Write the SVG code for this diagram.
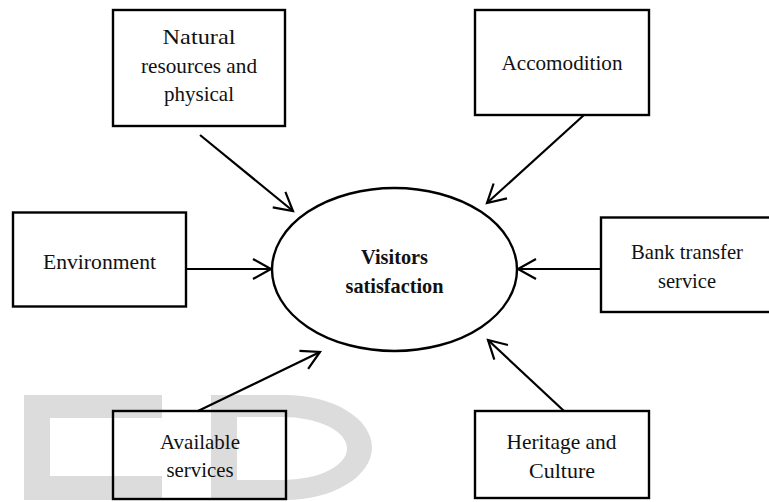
<svg xmlns="http://www.w3.org/2000/svg" width="769" height="502" viewBox="0 0 769 502">
  <style>
    .box { fill: none; stroke: #000; stroke-width: 2.4; }
    .lbl { font-family: "Liberation Serif", "Times New Roman", serif; font-size: 21px; fill: #111; text-anchor: middle; }
    .bold { font-weight: bold; }
    .conn { stroke: #000; stroke-width: 2.2; fill: none; marker-end: url(#arrow); }
    .wm { fill: #dcdcdc; fill-rule: evenodd; }
  </style>
  <defs>
    <marker id="arrow" markerUnits="userSpaceOnUse" markerWidth="24" markerHeight="24" viewBox="-20 -12 22 24" refX="0" refY="0" orient="auto">
      <path d="M-18,-10 L0,0 L-18,10" fill="none" stroke="#000" stroke-width="2.2" stroke-linejoin="miter"/>
    </marker>
  </defs>
  <rect width="769" height="502" fill="#fff"/>

  <g id="watermark">
    <path class="wm" d="M24,395 H162 V418 H50 V476 H162 V500 H24 Z"/>
    <path class="wm" d="M211,395 H285 A87,52.5 0 0 1 285,500 H211 Z M237,417 H283 A64,31.5 0 0 1 283,480 H237 Z"/>
  </g>

  <g id="connectors">
    <line class="conn" x1="200" y1="135" x2="293" y2="211"/>
    <line class="conn" x1="584" y1="115" x2="487" y2="203"/>
    <line class="conn" x1="186" y1="269" x2="271" y2="269"/>
    <line class="conn" x1="601" y1="269" x2="518" y2="269"/>
    <line class="conn" x1="564" y1="411" x2="488" y2="340"/>
    <line class="conn" x1="198" y1="411" x2="320" y2="352"/>
  </g>

  <g id="visitors">
    <ellipse cx="394.5" cy="269.5" rx="122.5" ry="81.5" fill="none" stroke="#000" stroke-width="2.4"/>
    <text class="lbl bold" x="394.5" y="264" textLength="67" lengthAdjust="spacingAndGlyphs">Visitors</text>
    <text class="lbl bold" x="394.5" y="293" textLength="98" lengthAdjust="spacingAndGlyphs">satisfaction</text>
  </g>

  <g id="natural">
    <rect class="box" x="113" y="10" width="172" height="116"/>
    <text class="lbl" x="199" y="44" textLength="73" lengthAdjust="spacingAndGlyphs">Natural</text>
    <text class="lbl" x="199" y="72.5" textLength="116" lengthAdjust="spacingAndGlyphs">resources and</text>
    <text class="lbl" x="199" y="101" textLength="70" lengthAdjust="spacingAndGlyphs">physical</text>
  </g>

  <g id="accomodition">
    <rect class="box" x="475" y="10" width="174" height="105"/>
    <text class="lbl" x="562" y="70" textLength="121" lengthAdjust="spacingAndGlyphs">Accomodition</text>
  </g>

  <g id="environment">
    <rect class="box" x="13" y="212.5" width="173" height="94"/>
    <text class="lbl" x="99.5" y="268.5" textLength="113" lengthAdjust="spacingAndGlyphs">Environment</text>
  </g>

  <g id="bank">
    <rect class="box" x="601" y="217.5" width="180" height="94.5"/>
    <text class="lbl" x="687" y="259" textLength="112" lengthAdjust="spacingAndGlyphs">Bank transfer</text>
    <text class="lbl" x="687" y="288" textLength="58" lengthAdjust="spacingAndGlyphs">service</text>
  </g>

  <g id="heritage">
    <rect class="box" x="475" y="411" width="174" height="87"/>
    <text class="lbl" x="561.5" y="449" textLength="110" lengthAdjust="spacingAndGlyphs">Heritage and</text>
    <text class="lbl" x="562" y="478" textLength="66" lengthAdjust="spacingAndGlyphs">Culture</text>
  </g>

  <g id="available">
    <rect class="box" x="113" y="411" width="173" height="88"/>
    <text class="lbl" x="200" y="448.5" textLength="80" lengthAdjust="spacingAndGlyphs">Available</text>
    <text class="lbl" x="200" y="477" textLength="67" lengthAdjust="spacingAndGlyphs">services</text>
  </g>
</svg>
